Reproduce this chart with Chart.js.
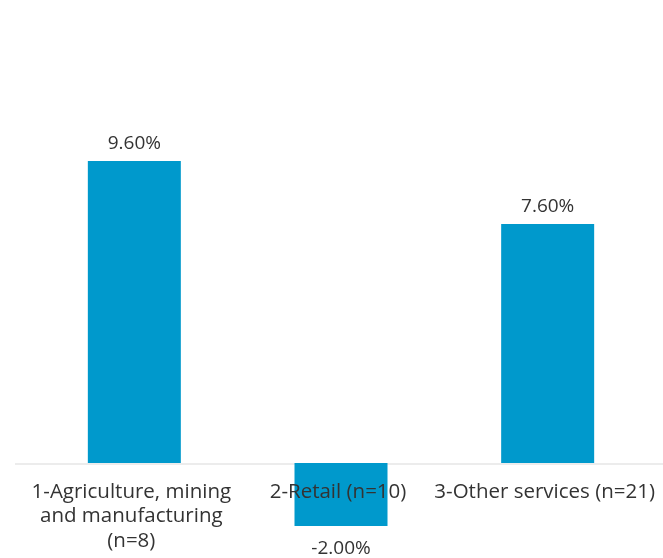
<!DOCTYPE html>
<html>
<head>
    <title>Growth by sector</title>
    <script src="https://cdn.jsdelivr.net/npm/chart.js@4.4.1/dist/chart.umd.min.js"></script>
    <style>
        body { margin: 0; background: #fff; }
        #wrap { width: 663px; height: 558px; }
    </style>
</head>
<body>
    <div id="wrap"><canvas id="sector-chart" width="663" height="558"></canvas></div>

    <script>
        // sectors (label lines) and their values in percent
        var sectorLabels = [
            ['1-Agriculture, mining', 'and manufacturing', '(n=8)'],
            ['2-Retail (n=10)'],
            ['3-Other services (n=21)']
        ];
        var growthValues = [9.6, -2.0, 7.6];

        var barColor = '#0099cc';
        var textColor = '#333333';
        var fontFamily = '"Open Sans", sans-serif';

        // value above/below each bar, sector names under the zero line
        var labelPlugin = {
            id: 'sectorLabels',
            beforeDatasetsDraw: function(chart) {
                var ctx = chart.ctx;
                var y0 = chart.scales.y.getPixelForValue(0);
                ctx.save();
                ctx.strokeStyle = '#ececec';
                ctx.lineWidth = 2;
                ctx.beginPath();
                ctx.moveTo(15, y0 + 1);
                ctx.lineTo(chart.width, y0 + 1);
                ctx.stroke();
                ctx.restore();
            },
            afterDatasetsDraw: function(chart) {
                var ctx = chart.ctx;
                var meta = chart.getDatasetMeta(0);
                var y0 = chart.scales.y.getPixelForValue(0);
                ctx.save();
                ctx.fillStyle = textColor;
                ctx.textAlign = 'center';
                ctx.textBaseline = 'middle';

                ctx.font = '19px ' + fontFamily;
                meta.data.forEach(function(bar, i) {
                    var v = growthValues[i];
                    var txt = v.toFixed(2) + '%';
                    var y = v >= 0 ? bar.y - 17 : bar.y + 23;
                    ctx.fillText(txt, bar.x, y);
                });

                ctx.font = '20.5px ' + fontFamily;
                meta.data.forEach(function(bar, i) {
                    sectorLabels[i].forEach(function(line, j) {
                        ctx.fillText(line, bar.x - 3, y0 + 29 + j * 24.5);
                    });
                });
                ctx.restore();
            }
        };

        var ctx = document.getElementById('sector-chart').getContext('2d');
        var sectorChart = new Chart(ctx, {
            type: 'bar',
            data: {
                labels: sectorLabels.map(function(l) { return l.join(' '); }),
                datasets: [{
                    data: growthValues,
                    backgroundColor: barColor,
                    borderWidth: 0,
                    barPercentage: 0.45,
                    categoryPercentage: 1.0
                }]
            },
            options: {
                responsive: false,
                animation: false,
                layout: {
                    padding: { left: 31, right: 12, top: 0, bottom: 0 }
                },
                scales: {
                    x: { display: false },
                    y: { display: false, min: -3.02, max: 14.72 }
                },
                plugins: {
                    legend: { display: false },
                    tooltip: { enabled: false }
                }
            },
            plugins: [labelPlugin]
        });
    </script>
</body>
</html>
